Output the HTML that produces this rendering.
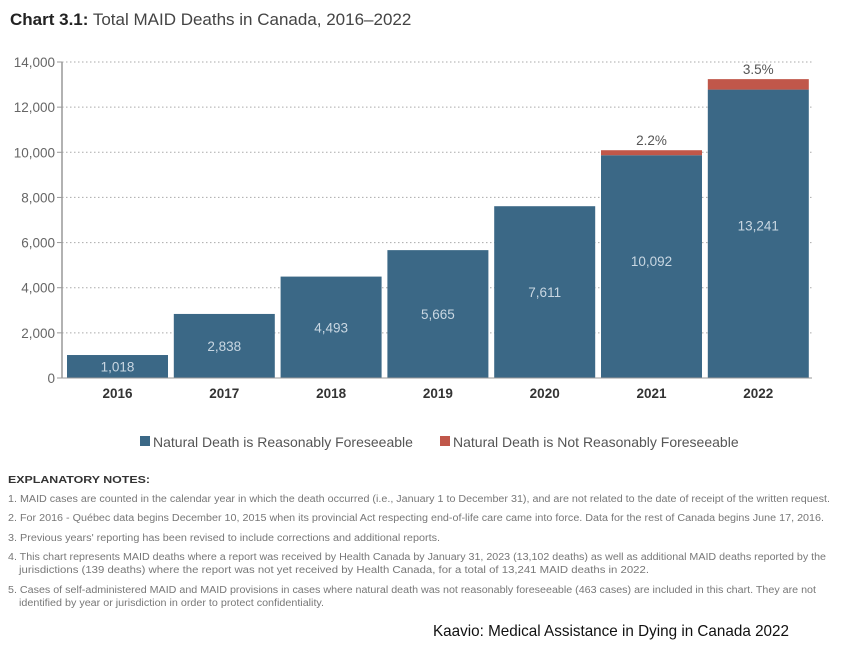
<!DOCTYPE html>
<html><head><meta charset="utf-8"><style>
html,body{margin:0;padding:0;background:#fff;}
svg{display:block;font-family:"Liberation Sans",sans-serif;}
</style></head><body>
<svg id="chart" width="856" height="650" viewBox="0 0 856 650">
  <text x="10" y="25" font-size="17" fill="#444"><tspan font-weight="bold" fill="#222">Chart 3.1:</tspan> Total MAID Deaths in Canada, 2016–2022</text>
  <g id="grid"></g>
  <g id="yticks"></g>
  <g id="bars"></g>
  <g id="xlabels"></g>
  <g>
    <g>
      <rect x="140" y="436" width="10" height="10" fill="#3b6886"/>
      <text x="153" y="447" font-size="14" fill="#555">Natural Death is Reasonably Foreseeable</text>
    </g>
    <g>
      <rect x="440" y="436" width="10" height="10" fill="#c0574a"/>
      <text x="453" y="447" font-size="14" fill="#555">Natural Death is Not Reasonably Foreseeable</text>
    </g>
  </g>
  <g font-size="10" fill="#777">
    <text x="8" y="483" font-weight="bold" fill="#333" textLength="142" lengthAdjust="spacingAndGlyphs">EXPLANATORY NOTES:</text>
    <text x="8" y="502" textLength="822" lengthAdjust="spacingAndGlyphs">1. MAID cases are counted in the calendar year in which the death occurred (i.e., January 1 to December 31), and are not related to the date of receipt of the written request.</text>
    <text x="8" y="521" textLength="816" lengthAdjust="spacingAndGlyphs">2. For 2016 - Québec data begins December 10, 2015 when its provincial Act respecting end-of-life care came into force. Data for the rest of Canada begins June 17, 2016.</text>
    <text x="8" y="541" textLength="432" lengthAdjust="spacingAndGlyphs">3. Previous years' reporting has been revised to include corrections and additional reports.</text>
    <text x="8" y="560" textLength="818" lengthAdjust="spacingAndGlyphs">4. This chart represents MAID deaths where a report was received by Health Canada by January 31, 2023 (13,102 deaths) as well as additional MAID deaths reported by the</text>
    <text x="19" y="573" textLength="630" lengthAdjust="spacingAndGlyphs">jurisdictions (139 deaths) where the report was not yet received by Health Canada, for a total of 13,241 MAID deaths in 2022.</text>
    <text x="8" y="593" textLength="808" lengthAdjust="spacingAndGlyphs">5. Cases of self-administered MAID and MAID provisions in cases where natural death was not reasonably foreseeable (463 cases) are included in this chart. They are not</text>
    <text x="19" y="606" textLength="305" lengthAdjust="spacingAndGlyphs">identified by year or jurisdiction in order to protect confidentiality.</text>
  </g>
  <text x="433" y="636" font-size="16" fill="#111" font-family="'Liberation Sans',sans-serif" textLength="356" lengthAdjust="spacingAndGlyphs">Kaavio: Medical Assistance in Dying in Canada 2022</text>
</svg>
<script>
const years = ["2016","2017","2018","2019","2020","2021","2022"];
const totals = [1018, 2838, 4493, 5665, 7611, 10092, 13241];
const notForeseeable = [0, 0, 0, 0, 0, 222, 463];
const pctLabels = ["", "", "", "", "", "2.2%", "3.5%"];
const totalLabels = ["1,018","2,838","4,493","5,665","7,611","10,092","13,241"];
const yTicks = [0, 2000, 4000, 6000, 8000, 10000, 12000, 14000];
const yTickLabels = ["0","2,000","4,000","6,000","8,000","10,000","12,000","14,000"];

const NS = "http://www.w3.org/2000/svg";
const y0 = 378, yTop = 62, yMax = 14000;
const y = v => y0 - (v / yMax) * (y0 - yTop);
const xStart = 67, step = 106.8, bw = 101;
const x = i => xStart + i * step;
function mk(tag, attrs, parent, txt){
  const e = document.createElementNS(NS, tag);
  for (const k in attrs) e.setAttribute(k, attrs[k]);
  if (txt !== undefined) e.textContent = txt;
  parent.appendChild(e); return e;
}
const grid = document.getElementById("grid");
const yt = document.getElementById("yticks");
yTicks.forEach((v, i) => {
  if (v > 0) {
    const l = mk("line", {x1: 62, x2: 812, y1: y(v), y2: y(v), stroke: "#aaa", "stroke-width": 1, "stroke-dasharray": "1.5,2.5"}, grid);
    
    
  }
  mk("line", {x1: 57, x2: 62, y1: y(v), y2: y(v), stroke: "#999"}, yt);
  const t = mk("text", {x: 55, y: y(v) + 5, "text-anchor": "end", "font-size": 13.5, fill: "#666"}, yt, yTickLabels[i]);
  
  
});
mk("line", {x1: 62, x2: 62, y1: yTop, y2: y0, stroke: "#999", "stroke-width": 1.5}, yt);

const bars = document.getElementById("bars");
const xl = document.getElementById("xlabels");
years.forEach((yr, i) => {
  const blue = totals[i] - notForeseeable[i];
  const r = mk("rect", {x: x(i), y: y(blue), width: bw, height: y0 - y(blue), fill: "#3b6886"}, bars);
  
  
  if (notForeseeable[i] > 0) {
    const rr = mk("rect", {x: x(i), y: y(totals[i]), width: bw, height: y(blue) - y(totals[i]), fill: "#c0574a"}, bars);
    
    
    const p = mk("text", {x: x(i) + bw/2, y: y(totals[i]) - 5, "text-anchor": "middle", "font-size": 13.5, fill: "#555"}, bars, pctLabels[i]);
    
    
  }
  const vl = mk("text", {x: x(i) + bw/2, y: (y(totals[i]) + y0)/2 + 5 - (totals[i] > 9000 ? 3 : 0), "text-anchor": "middle", "font-size": 13.5, fill: "#c9d7e2"}, bars, totalLabels[i]);
  
  
  const xt = mk("text", {x: x(i) + bw/2, y: 398, "text-anchor": "middle", "font-size": 13.5, "font-weight": "bold", fill: "#333"}, xl, yr);
  
  
});
mk("line", {x1: 62, x2: 812, y1: y0, y2: y0, stroke: "#999"}, xl);
</script>
</body></html>
